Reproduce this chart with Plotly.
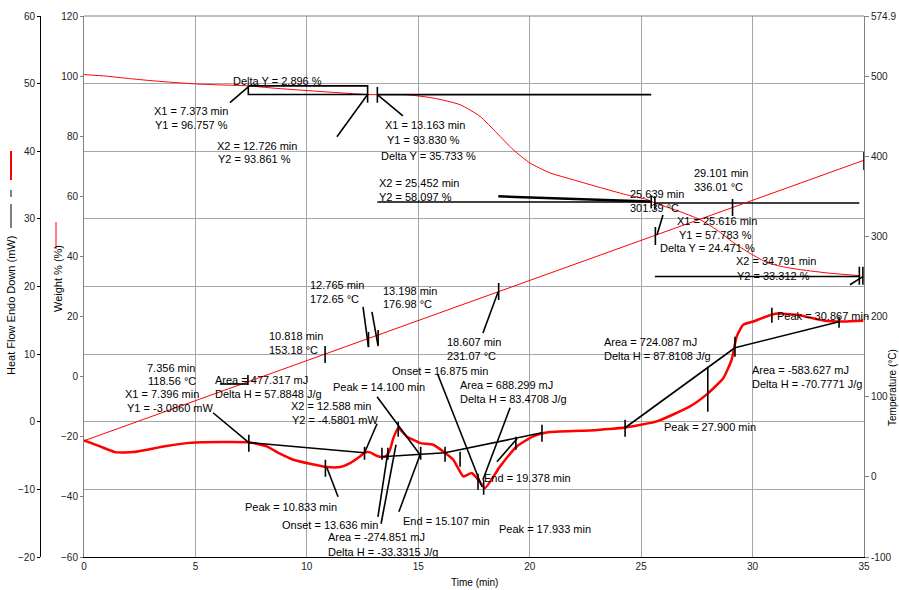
import plotly.graph_objects as go

# ---------------------------------------------------------------- data
# Heat flow (mW) versus time (min)
TIME_HF = [0, 0.72, 1.39, 2.21, 2.9, 3.56, 4.61, 5.06, 6.2, 7.45, 8.2, 8.79, 9.39,
           10.14, 10.89, 11.49, 11.94, 12.38, 12.61, 12.83, 13.13, 13.36, 13.58,
           13.73, 13.88, 14.1, 14.48, 14.93, 15.08, 15.67, 16.12, 16.57, 17.02,
           17.4, 17.69, 17.99, 18.67, 19.42, 20.16, 20.91, 22.71, 23.15, 24.28,
           25.7, 27.19, 28.01, 28.69, 29.06, 29.29, 29.58, 30.03, 31.01, 31.98,
           33.17, 34.07, 34.97]
HEAT_FLOW = [-2.76, -3.65, -4.49, -4.49, -4.1, -3.65, -3.16, -3.06, -3.0, -3.05,
             -3.65, -4.73, -5.62, -6.21, -6.7, -6.7, -6.11, -5.13, -4.55, -4.53,
             -5.03, -5.23, -5.03, -4.14, -2.42, -0.94, -2.17, -2.91, -3.16, -3.4,
             -4.39, -5.62, -8.08, -7.59, -8.58, -9.81, -6.6, -3.65, -2.17, -1.53,
             -1.28, -1.18, -0.85, 0.05, 2.27, 4.24, 6.46, 9.17, 12.62, 14.34,
             14.83, 15.97, 15.82, 14.98, 14.83, 14.93]

# Weight (%) versus time (min)
TIME_W = [0, 1, 2, 3, 4, 5, 6, 7.373, 8.5, 10, 11.36, 12.726, 13.163, 14.48,
          15.67, 16.87, 17.77, 18.52, 19.26, 20.01, 20.91, 21.96, 23.17, 24.3,
          25.28, 25.616, 26.6, 27.66, 28.4, 29.14, 29.9, 30.67, 31.4, 32.15,
          33.5, 34.84]
WEIGHT = [100.5, 100.0, 99.2, 98.5, 97.9, 97.4, 97.1, 96.757, 96.0, 95.2, 94.5,
          93.861, 93.83, 93.8, 92.7, 90.5, 86.6, 81.1, 75.5, 71.1, 67.8, 65.5,
          62.9, 60.6, 58.9, 57.783, 55.3, 52.2, 48.8, 44.6, 41.0, 37.9, 36.5,
          35.6, 34.4, 33.6]

# Sample temperature (°C) versus time (min)
TIME_T = [0, 7.356, 10.818, 12.765, 13.198, 18.607, 25.639, 29.101, 35]
TEMPERATURE = [45, 118.56, 153.18, 172.65, 176.98, 231.07, 301.39, 336.01, 395]

# Axis ranges and ticks
TIME_TICKS = [0, 5, 10, 15, 20, 25, 30, 35]
HF_RANGE = [-20, 60]
HF_TICKS = [-20, -10, 0, 10, 20, 30, 40, 50, 60]
W_RANGE = [-60, 120]
W_TICKS = [-60, -40, -20, 0, 20, 40, 60, 80, 100, 120]
T_RANGE = [-100, 574.9]
T_TICKS = [-100, 0, 100, 200, 300, 400, 500, 574.9]
T_TICKTEXT = ["-100", "0", "100", "200", "300", "400", "500", "574.9"]

# Analysis results written on the chart: (time, heat-flow position, text)
LABELS = [
    (6.60, 50.42, "Delta Y = 2.896 %"),
    (3.05, 45.99, "X1 = 7.373 min"),
    (3.10, 43.92, "Y1 = 96.757 %"),
    (5.88, 40.81, "X2 = 12.726 min"),
    (5.92, 38.89, "Y2 = 93.861 %"),
    (13.42, 43.92, "X1 = 13.163 min"),
    (13.51, 41.70, "Y1 = 93.830 %"),
    (13.24, 39.33, "Delta Y = 35.733 %"),
    (13.15, 35.34, "X2 = 25.452 min"),
    (13.15, 33.27, "Y2 = 58.097 %"),
    (24.41, 33.72, "25.639 min"),
    (24.41, 31.64, "301.39 °C"),
    (27.28, 36.82, "29.101 min"),
    (27.28, 34.75, "336.01 °C"),
    (26.52, 29.72, "X1 = 25.616 min"),
    (26.61, 27.65, "Y1 = 57.783 %"),
    (25.76, 25.73, "Delta Y = 24.471 %"),
    (29.17, 23.81, "X2 = 34.791 min"),
    (29.21, 21.59, "Y2 = 33.312 %"),
    (10.05, 20.26, "12.765 min"),
    (10.05, 18.19, "172.65 °C"),
    (13.33, 19.37, "13.198 min"),
    (13.33, 17.45, "176.98 °C"),
    (8.21, 12.72, "10.818 min"),
    (8.21, 10.65, "153.18 °C"),
    (16.20, 11.83, "18.607 min"),
    (16.20, 9.76, "231.07 °C"),
    (13.73, 7.54, "Onset = 16.875 min"),
    (16.78, 5.47, "Area = 688.299 mJ"),
    (16.78, 3.40, "Delta H = 83.4708 J/g"),
    (23.24, 11.83, "Area = 724.087 mJ"),
    (23.24, 9.76, "Delta H = 87.8108 J/g"),
    (31.01, 15.67, "Peak = 30.867 min"),
    (29.88, 7.69, "Area = -583.627 mJ"),
    (29.88, 5.62, "Delta H = -70.7771 J/g"),
    (25.94, -0.74, "Peak = 27.900 min"),
    (2.74, 7.99, "7.356 min"),
    (2.78, 6.06, "118.56 °C"),
    (1.75, 4.14, "X1 = 7.396 min"),
    (1.84, 2.07, "Y1 = -3.0860 mW"),
    (5.79, 6.21, "Area = 477.317 mJ"),
    (5.79, 4.14, "Delta H = 57.8848 J/g"),
    (11.08, 5.18, "Peak = 14.100 min"),
    (9.20, 2.37, "X2 = 12.588 min"),
    (9.24, 0.30, "Y2 = -4.5801 mW"),
    (7.13, -12.57, "Peak = 10.833 min"),
    (8.79, -15.23, "Onset = 13.636 min"),
    (10.86, -17.01, "Area = -274.851 mJ"),
    (10.86, -19.22, "Delta H = -33.3315 J/g"),
    (14.22, -14.64, "End = 15.107 min"),
    (17.86, -8.28, "End = 19.378 min"),
    (18.53, -15.82, "Peak = 17.933 min"),
]

# Baselines, leaders and cursor ticks of the heat-flow analysis (time, mW)
HF_SEGMENTS = [
    [(5.79, 1.33), (7.396, -3.086)],
    [(7.396, -3.086), (12.588, -4.5801)],
    [(7.396, -1.92), (7.396, -4.44)],
    [(12.588, -3.70), (12.588, -5.62)],
    [(13.15, -0.30), (12.588, -4.58)],
    [(11.40, -11.09), (10.90, -6.80)],
    [(10.833, -5.62), (10.833, -8.13)],
    [(13.15, 3.70), (15.08, -4.88)],
    [(14.10, 0.0), (14.10, -2.22)],
    [(13.19, -14.05), (13.636, -4.44)],
    [(13.636, -3.84), (13.636, -5.62)],
    [(13.37, -3.84), (13.37, -5.62)],
    [(13.33, -15.08), (14.0, -3.40)],
    [(14.13, -13.31), (15.08, -4.88)],
    [(15.107, -3.70), (15.107, -5.62)],
    [(13.37, -5.18), (16.2, -4.58), (20.55, -1.63)],
    [(16.2, -3.70), (16.2, -5.92)],
    [(20.55, -0.44), (20.55, -2.96)],
    [(15.88, 6.95), (17.86, -9.61)],
    [(16.875, -4.44), (16.875, -6.65)],
    [(19.12, 2.07), (17.90, -8.58)],
    [(19.43, -2.51), (18.53, -5.92)],
    [(19.378, -2.22), (19.378, -4.14)],
    [(17.933, -8.58), (17.933, -10.79)],
    [(17.68, -7.69), (17.68, -10.06)],
    [(24.28, -0.89), (29.21, 10.94)],
    [(24.28, 0.30), (24.28, -2.22)],
    [(29.21, 12.57), (29.21, 9.61)],
    [(27.99, 8.13), (27.99, 1.48)],
    [(29.21, 10.94), (33.88, 14.79)],
    [(33.88, 15.53), (33.88, 13.90)],
    [(30.867, 16.86), (30.867, 14.64)],
]

# Step-height cursors on the weight curve (time, %)
W_SEGMENTS = [
    [(7.373, 96.757), (12.726, 96.757), (12.726, 93.861), (7.373, 93.861), (7.373, 96.757)],
    [(12.726, 93.861), (12.726, 91.15)],
    [(13.163, 96.4), (13.163, 91.15)],
    [(13.163, 93.83), (25.452, 93.83)],
    [(13.163, 58.097), (25.452, 58.097)],
    [(25.452, 60.3), (25.452, 56.0)],
    [(25.616, 60.0), (25.616, 55.5)],
    [(25.616, 57.783), (34.791, 57.783)],
    [(25.616, 33.312), (34.791, 33.312)],
    [(34.791, 36.6), (34.791, 30.6)],
    [(34.95, 36.6), (34.95, 30.6)],
    [(34.37, 30.6), (34.95, 33.3)],
    [(6.55, 91.15), (7.373, 96.4)],
    [(11.35, 79.8), (12.726, 93.861)],
    [(13.163, 93.83), (14.31, 86.8)],
]
W_SLOPE = [(18.59, 60.0), (25.4, 58.3)]

# Temperature read-out cursors (time, °C)
T_SEGMENTS = [
    [(6.10, 115.8), (7.356, 115.8)],
    [(7.356, 127.0), (7.356, 114.5)],
    [(10.818, 163.2), (10.818, 142.0)],
    [(12.52, 211.9), (12.765, 161.9)],
    [(12.765, 180.7), (12.765, 161.9)],
    [(12.92, 205.7), (13.198, 163.2)],
    [(13.198, 183.2), (13.198, 164.5)],
    [(17.90, 179.4), (18.58, 230.5)],
    [(18.607, 241.8), (18.607, 220.6)],
    [(25.639, 311.7), (25.639, 289.2)],
    [(25.98, 326.6), (25.71, 301.7)],
    [(29.101, 346.6), (29.101, 325.4)],
    [(35.0, 405.2), (35.0, 382.8)],
]

# ---------------------------------------------------------------- styles
FONT = "Liberation Sans, Arial, sans-serif"
RED = "#ff0000"
GRID = "#a6a6a6"
AX_GRAY = "#808080"
W_PX, H_PX = 899, 590
X_DOMAIN = [84 / W_PX, 864 / W_PX]
Y_DOMAIN = [33 / H_PX, 574 / H_PX]


def polylines(segments):
    xs, ys = [], []
    for seg in segments:
        for t, v in seg:
            xs.append(t)
            ys.append(v)
        xs.append(None)
        ys.append(None)
    return xs, ys


fig = go.Figure()

fig.add_trace(go.Scatter(x=TIME_T, y=TEMPERATURE, yaxis="y3", mode="lines",
                         line=dict(color=RED, width=1), hoverinfo="skip"))
fig.add_trace(go.Scatter(x=TIME_W, y=WEIGHT, yaxis="y2", mode="lines",
                         line=dict(color=RED, width=1, shape="spline", smoothing=0.6),
                         hoverinfo="skip"))
fig.add_trace(go.Scatter(x=TIME_HF, y=HEAT_FLOW, yaxis="y", mode="lines",
                         line=dict(color=RED, width=2.5, shape="spline", smoothing=0.5),
                         hoverinfo="skip"))
# same heat-flow series bound to the outer scale so that axis is drawn
fig.add_trace(go.Scatter(x=TIME_HF, y=HEAT_FLOW, yaxis="y4", mode="lines",
                         line=dict(color="rgba(0,0,0,0)", width=0), hoverinfo="skip"))

hx, hy = polylines(HF_SEGMENTS)
fig.add_trace(go.Scatter(x=hx, y=hy, yaxis="y", mode="lines",
                         line=dict(color="black", width=1.6), hoverinfo="skip"))
wx, wy = polylines(W_SEGMENTS)
fig.add_trace(go.Scatter(x=wx, y=wy, yaxis="y2", mode="lines",
                         line=dict(color="black", width=1.6), hoverinfo="skip"))
sx, sy = polylines([W_SLOPE])
fig.add_trace(go.Scatter(x=sx, y=sy, yaxis="y2", mode="lines",
                         line=dict(color="black", width=2.5), hoverinfo="skip"))
tx, ty = polylines(T_SEGMENTS)
fig.add_trace(go.Scatter(x=tx, y=ty, yaxis="y3", mode="lines",
                         line=dict(color="black", width=1.6), hoverinfo="skip"))

annotations = [
    dict(x=t, y=v, xref="x", yref="y", text=txt, showarrow=False,
         xanchor="left", yanchor="middle", font=dict(family=FONT, size=11, color="black"))
    for t, v, txt in LABELS
]

title_font = dict(family=FONT, size=11, color="black")
annotations += [
    dict(x=11 / W_PX, y=1 - 306 / H_PX, xref="paper", yref="paper",
         text="Heat Flow Endo Down (mW)", textangle=-90, showarrow=False,
         xanchor="center", yanchor="middle", font=title_font),
    dict(x=58 / W_PX, y=1 - 279 / H_PX, xref="paper", yref="paper",
         text="Weight % (%)", textangle=-90, showarrow=False,
         xanchor="center", yanchor="middle", font=title_font),
    dict(x=892 / W_PX, y=1 - 388 / H_PX, xref="paper", yref="paper",
         text="Temperature (°C)", textangle=-90, showarrow=False,
         xanchor="center", yanchor="middle",
         font=dict(family=FONT, size=10, color="black")),
    dict(x=474 / W_PX, y=1 - 582 / H_PX, xref="paper", yref="paper",
         text="Time (min)", showarrow=False,
         xanchor="center", yanchor="middle",
         font=dict(family=FONT, size=10, color="black")),
]

shapes = [
    # heat-flow key
    dict(type="line", xref="paper", yref="paper", x0=11 / W_PX, x1=11 / W_PX,
         y0=1 - 151 / H_PX, y1=1 - 180 / H_PX, line=dict(color=RED, width=2)),
    dict(type="line", xref="paper", yref="paper", x0=11 / W_PX, x1=11 / W_PX,
         y0=1 - 190 / H_PX, y1=1 - 197 / H_PX, line=dict(color="black", width=1)),
    dict(type="line", xref="paper", yref="paper", x0=11 / W_PX, x1=11 / W_PX,
         y0=1 - 204 / H_PX, y1=1 - 228 / H_PX, line=dict(color="black", width=1)),
    # weight key
    dict(type="line", xref="paper", yref="paper", x0=56 / W_PX, x1=56 / W_PX,
         y0=1 - 222 / H_PX, y1=1 - 249 / H_PX, line=dict(color=RED, width=1)),
    # top frame edge
    dict(type="line", xref="paper", yref="paper", x0=X_DOMAIN[0], x1=X_DOMAIN[1],
         y0=Y_DOMAIN[1], y1=Y_DOMAIN[1], line=dict(color=AX_GRAY, width=1)),
]

tick_font = dict(family=FONT, size=10, color="#222222")

fig.update_layout(
    width=W_PX, height=H_PX,
    margin=dict(l=0, r=0, t=0, b=0),
    paper_bgcolor="white", plot_bgcolor="white",
    showlegend=False,
    annotations=annotations,
    shapes=shapes,
    xaxis=dict(domain=X_DOMAIN, range=[0, 35], tickvals=TIME_TICKS,
               showgrid=True, gridcolor=GRID, gridwidth=1, zeroline=False,
               showline=True, linecolor="black", linewidth=1, ticks="",
               tickfont=tick_font, automargin=False, anchor="y"),
    yaxis=dict(domain=Y_DOMAIN, range=HF_RANGE, tickvals=HF_TICKS,
               showgrid=True, gridcolor=GRID, gridwidth=1, zeroline=False,
               showticklabels=False, ticks="", showline=False,
               automargin=False, anchor="x"),
    yaxis2=dict(domain=Y_DOMAIN, range=W_RANGE, tickvals=W_TICKS, overlaying="y",
                anchor="x", side="left", showgrid=False, zeroline=False,
                showline=True, linecolor=AX_GRAY, linewidth=1,
                ticks="outside", ticklen=3, tickcolor=AX_GRAY,
                tickfont=tick_font, automargin=False),
    yaxis3=dict(domain=Y_DOMAIN, range=T_RANGE, tickvals=T_TICKS, ticktext=T_TICKTEXT,
                overlaying="y", anchor="x", side="right", showgrid=False,
                zeroline=False, showline=True, linecolor=AX_GRAY, linewidth=1,
                ticks="outside", ticklen=4, tickcolor=AX_GRAY,
                tickfont=tick_font, automargin=False),
    yaxis4=dict(domain=Y_DOMAIN, range=HF_RANGE, tickvals=HF_TICKS, overlaying="y",
                anchor="free", position=40 / W_PX, side="left", showgrid=False,
                zeroline=False, showline=True, linecolor="black", linewidth=1,
                ticks="outside", ticklen=3, tickcolor="black",
                tickfont=tick_font, automargin=False),
)

fig.write_html("out.html")
